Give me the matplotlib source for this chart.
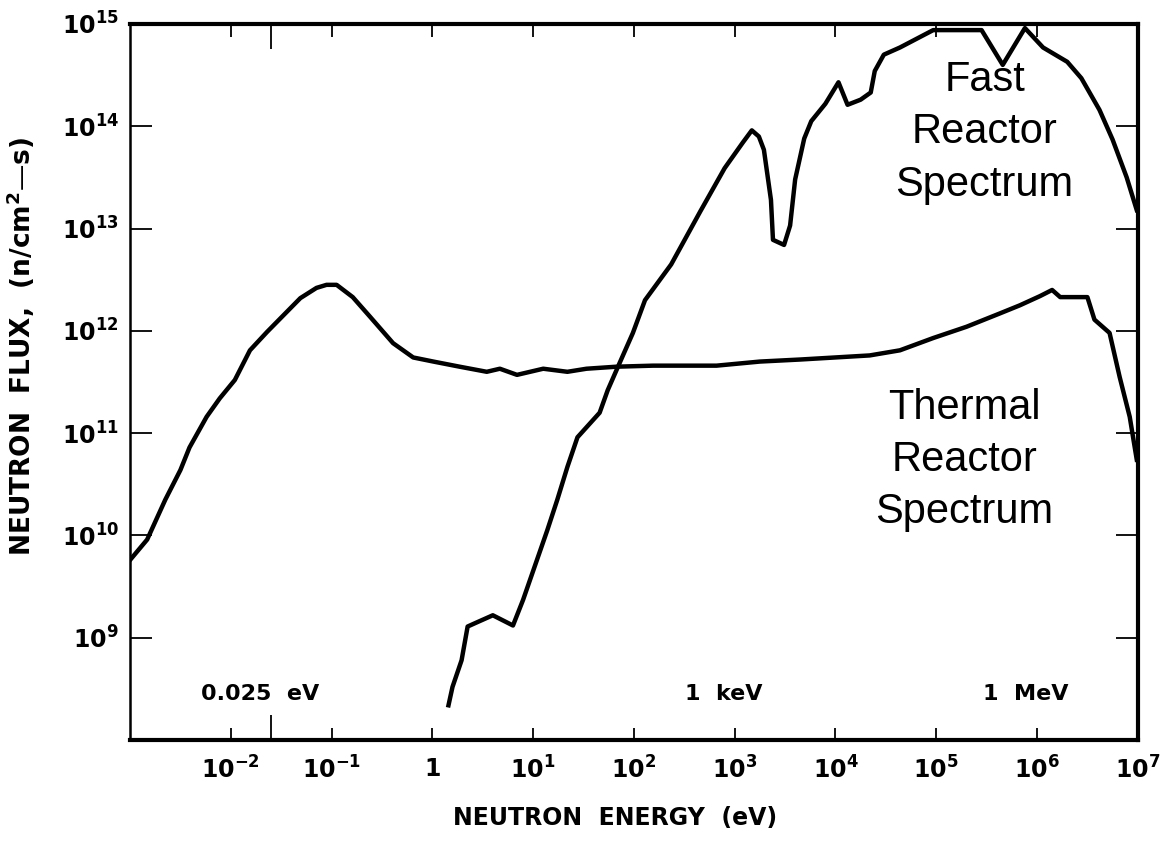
import matplotlib
matplotlib.use('Agg')
import matplotlib.pyplot as plt
import matplotlib.transforms as mtransforms
import numpy as np
from matplotlib.ticker import FixedLocator, FixedFormatter, NullFormatter

# Data (log10 of energy in eV, log10 of flux)
thermal_log_e = [-3.00, -2.83, -2.65, -2.50, -2.41, -2.24, -2.11, -1.96, -1.81, -1.64,
                 -1.48, -1.31, -1.15, -1.05, -0.95, -0.79, -0.62, -0.39, -0.19, 0.01,
                 0.27, 0.54, 0.67, 0.84, 1.10, 1.34, 1.53, 1.83, 2.19, 2.82,
                 3.25, 3.65, 4.34, 4.64, 4.97, 5.30, 5.63, 5.83, 6.03, 6.15,
                 6.23, 6.50, 6.57, 6.72, 6.82, 6.92, 6.99]
thermal_log_flux = [9.76, 9.96, 10.35, 10.64, 10.86, 11.16, 11.34, 11.52, 11.81, 11.99,
                    12.15, 12.32, 12.42, 12.45, 12.45, 12.33, 12.14, 11.88, 11.74, 11.70,
                    11.65, 11.60, 11.63, 11.57, 11.63, 11.60, 11.63, 11.65, 11.66, 11.66,
                    11.70, 11.72, 11.76, 11.81, 11.93, 12.04, 12.17, 12.25, 12.34, 12.40,
                    12.33, 12.33, 12.11, 11.98, 11.55, 11.16, 10.74]

fast_log_e = [0.16, 0.20, 0.29, 0.35, 0.44, 0.60, 0.80, 0.90, 1.14, 1.24,
              1.34, 1.44, 1.66, 1.74, 1.86, 1.99, 2.11, 2.37, 2.66, 2.90,
              3.08, 3.17, 3.24, 3.29, 3.36, 3.38, 3.49, 3.55, 3.60, 3.69,
              3.76, 3.90, 4.03, 4.12, 4.25, 4.35, 4.39, 4.48, 4.64, 4.97,
              5.45, 5.66, 5.88, 6.06, 6.30, 6.44, 6.62, 6.75, 6.89, 6.99]
fast_log_flux = [8.34, 8.52, 8.78, 9.11, 9.15, 9.22, 9.12, 9.37, 10.05, 10.35,
                 10.67, 10.96, 11.20, 11.42, 11.69, 11.98, 12.30, 12.65, 13.17, 13.59,
                 13.84, 13.96, 13.90, 13.77, 13.28, 12.89, 12.84, 13.03, 13.48, 13.88,
                 14.05, 14.22, 14.43, 14.21, 14.26, 14.33, 14.54, 14.70, 14.77, 14.94,
                 14.94, 14.60, 14.96, 14.77, 14.63, 14.47, 14.16, 13.87, 13.50, 13.18]

x_ticks = [1e-2, 1e-1, 1, 1e1, 1e2, 1e3, 1e4, 1e5, 1e6, 1e7]
x_tick_labels = ['$10^{-2}$', '$10^{-1}$', '$1$', '$10^{1}$', '$10^{2}$', '$10^{3}$',
                 '$10^{4}$', '$10^{5}$', '$10^{6}$', '$10^{7}$']
y_ticks = [1e9, 1e10, 1e11, 1e12, 1e13, 1e14, 1e15]
y_tick_labels = ['$10^{9}$', '$10^{10}$', '$10^{11}$', '$10^{12}$', '$10^{13}$',
                 '$10^{14}$', '$10^{15}$']
marker_energies = [0.025, 1e3, 1e6]
marker_labels = ['0.025  eV', '1  keV', '1  MeV']

plt.rcParams['mathtext.default'] = 'bf'
plt.rcParams['font.family'] = ['DejaVu Sans']

fig = plt.figure(figsize=(11.61, 8.41), dpi=100)
ax = fig.add_axes([0.112, 0.120, 0.868, 0.8515])

ax.plot(10 ** np.array(thermal_log_e), 10 ** np.array(thermal_log_flux),
        color='black', linewidth=3.2, solid_joinstyle='round')
ax.plot(10 ** np.array(fast_log_e), 10 ** np.array(fast_log_flux),
        color='black', linewidth=3.2, solid_joinstyle='round')

ax.set_xscale('log')
ax.set_yscale('log')
ax.set_xlim(1e-3, 1e7)
ax.set_ylim(1e8, 1e15)

# Ticks
ax.xaxis.set_major_locator(FixedLocator(x_ticks))
ax.xaxis.set_major_formatter(FixedFormatter(x_tick_labels))
ax.xaxis.set_minor_locator(FixedLocator(marker_energies))
ax.xaxis.set_minor_formatter(NullFormatter())
ax.yaxis.set_major_locator(FixedLocator(y_ticks))
ax.yaxis.set_major_formatter(FixedFormatter(y_tick_labels))
ax.yaxis.set_minor_locator(FixedLocator([]))

ax.tick_params(axis='x', which='major', direction='in', top=True, length=9,
               width=1.3, labelsize=17, pad=12)
ax.tick_params(axis='x', which='minor', direction='in', top=True, length=18, width=1.3)
ax.tick_params(axis='y', which='major', direction='in', right=True, length=16,
               width=1.3, labelsize=17, pad=8)

for side in ['top', 'bottom', 'right']:
    ax.spines[side].set_linewidth(3.0)
ax.spines['left'].set_linewidth(1.8)

# Axis labels
ax.set_xlabel('NEUTRON  ENERGY  (eV)', fontsize=17, fontweight='bold')
ax.xaxis.set_label_coords(0.481, -0.092)
ax.set_ylabel('NEUTRON  FLUX,  (n/cm$^{2}$\u2014s)', fontsize=19, fontweight='bold')
ax.yaxis.set_label_coords(-0.092, 0.55)

# Energy markers inside the axes
trans = mtransforms.blended_transform_factory(ax.transData, ax.transAxes)
for e, lab in zip(marker_energies, marker_labels):
    ax.annotate(lab, xy=(e, 0.064), xycoords=trans, xytext=(-8, 0),
                textcoords='offset points', ha='center', va='center',
                fontsize=16, fontweight='bold')

# Curve labels
ax.text(0.848, 0.849, 'Fast\nReactor\nSpectrum', transform=ax.transAxes,
        ha='center', va='center', multialignment='center', fontsize=30,
        family='Liberation Sans', linespacing=1.4)
ax.text(0.828, 0.391, 'Thermal\nReactor\nSpectrum', transform=ax.transAxes,
        ha='center', va='center', multialignment='center', fontsize=30,
        family='Liberation Sans', linespacing=1.4)

fig.savefig('out.png', dpi=100)
